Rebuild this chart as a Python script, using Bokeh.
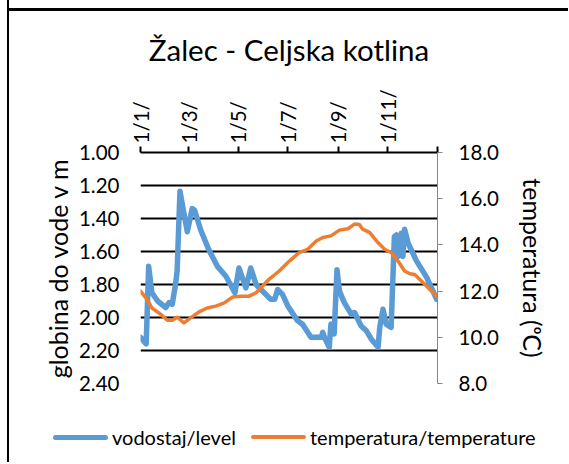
from bokeh.plotting import figure
from bokeh.layouts import column
from bokeh.models import (Range1d, LinearAxis, FixedTicker, NumeralTickFormatter, Div)
from bokeh.embed import file_html
from bokeh.resources import INLINE

# ---- data (day of year) ----
level_day = [0, 7, 10, 14, 21, 31, 35, 39, 43, 45, 48.5, 57.5, 63.5, 66.5, 74, 84, 94.5,
             105, 116, 121, 129.5, 135.5, 142, 152, 160, 165, 168.5, 174.5, 181, 193,
             199, 209.5, 222, 224, 226, 232, 234, 238, 241.5, 244.5, 250.5, 259, 263,
             271, 277.5, 283.5, 292, 294, 298, 302, 308, 312, 314.5, 316.5, 320.5,
             322.5, 324.5, 329, 339, 351.5, 364]
level_m = [2.12, 2.16, 1.69, 1.85, 1.90, 1.94, 1.91, 1.92, 1.80, 1.72, 1.235, 1.48, 1.34,
           1.35, 1.47, 1.59, 1.69, 1.75, 1.85, 1.70, 1.82, 1.70, 1.80, 1.85, 1.89, 1.89,
           1.83, 1.86, 1.93, 2.02, 2.04, 2.12, 2.12, 2.09, 2.12, 2.18, 2.04, 2.10, 1.71,
           1.84, 1.91, 1.98, 1.97, 2.05, 2.08, 2.13, 2.18, 2.06, 1.95, 2.04, 2.06, 1.51,
           1.50, 1.63, 1.49, 1.63, 1.465, 1.55, 1.655, 1.755, 1.89]

temp_day = [0, 8, 14, 25, 33, 39, 45, 53.5, 61.5, 72, 82, 92.5, 103, 113, 123, 133.5, 142,
            150, 158, 170.5, 183, 195, 205.5, 216, 224, 234, 244.5, 255, 263, 269, 273,
            281.5, 290, 300, 308, 316.5, 324.5, 331, 337, 347.5, 357.5, 364]
temp_c = [12.0, 11.64, 11.27, 10.99, 10.74, 10.74, 10.87, 10.62, 10.84, 11.10, 11.27, 11.35,
          11.49, 11.74, 11.78, 11.78, 11.93, 12.22, 12.51, 12.87, 13.30, 13.67, 13.81,
          14.17, 14.32, 14.39, 14.64, 14.70, 14.90, 14.88, 14.68, 14.54, 14.17, 13.81,
          13.67, 13.30, 12.87, 12.75, 12.72, 12.36, 12.0, 11.78]

x_ticks = [0, 59, 120, 181, 243, 304, 365]
x_labels = ["1/1/", "1/3/", "1/5/", "1/7/", "1/9/", "1/11/", ""]
left_ticks = [1.0, 1.2, 1.4, 1.6, 1.8, 2.0, 2.2, 2.4]
right_ticks = [8, 10, 12, 14, 16, 18]
series_names = ["vodostaj/level", "temperatura/temperature"]

FONT = "Lato"
BLUE = "#5B9BD5"
ORANGE = "#ED7D31"
TICK_FS = "20.5px"

W, H1, H2 = 568, 398, 64
LEFT_LINE = "linear-gradient(black, black) 7px 0px / 2px 100% no-repeat"
TOP_LINE = "linear-gradient(black, black) 8px 8px / 100% 3px no-repeat"

p = figure(width=W, height=H1, output_backend="svg", toolbar_location=None,
           x_range=Range1d(0, 365), y_range=Range1d(2.4, 1.0),
           x_axis_location="above",
           min_border_left=140, min_border_right=W - 437, min_border_top=152,
           min_border_bottom=H1 - 383)
p.styles = {"background": LEFT_LINE + ", " + TOP_LINE + ", white"}
p.outline_line_color = None
p.background_fill_color = "white"
p.border_fill_alpha = 0

p.title.text = "Žalec - Celjska kotlina"
p.title.text_font = FONT
p.title.text_font_size = "29.5px"
p.title.text_font_style = "normal"
p.title.text_color = "black"
p.title.align = "center"
p.title.standoff = 40

# top x axis
xa = p.xaxis[0]
xa.ticker = FixedTicker(ticks=x_ticks)
xa.major_label_overrides = {t: l for t, l in zip(x_ticks, x_labels)}
xa.major_label_orientation = "vertical"
xa.major_label_text_font = FONT
xa.major_label_text_font_size = TICK_FS
xa.major_label_text_color = "black"
xa.axis_line_color = "black"
xa.axis_line_width = 2
xa.major_tick_line_color = "black"
xa.major_tick_line_width = 2
xa.major_tick_out = 6
xa.major_tick_in = 0
xa.minor_tick_line_color = None
xa.major_label_standoff = 3
p.xgrid.grid_line_color = None

# left y axis
ya = p.yaxis[0]
ya.ticker = FixedTicker(ticks=left_ticks)
ya.formatter = NumeralTickFormatter(format="0.00")
ya.axis_label = "globina do vode v m"
ya.axis_label_text_font = FONT
ya.axis_label_text_font_size = "25px"
ya.axis_label_text_font_style = "normal"
ya.axis_label_text_color = "black"
ya.axis_label_standoff = 3
ya.major_label_text_font = FONT
ya.major_label_text_font_size = TICK_FS
ya.major_label_text_color = "black"
ya.axis_line_color = None
ya.major_tick_line_color = None
ya.major_tick_out = 0
ya.major_tick_in = 0
ya.minor_tick_line_color = None
ya.major_label_standoff = 21
p.ygrid.grid_line_color = "black"
p.ygrid.grid_line_width = 2
p.ygrid.ticker = FixedTicker(ticks=left_ticks)

# right y axis
p.extra_y_ranges = {"temp": Range1d(8, 18)}
ra = LinearAxis(y_range_name="temp", ticker=FixedTicker(ticks=right_ticks),
                formatter=NumeralTickFormatter(format="0.0"))
ra.axis_label = "temperatura (ᵒC)"
ra.axis_label_text_font = FONT
ra.axis_label_text_font_size = "25px"
ra.axis_label_text_font_style = "normal"
ra.axis_label_text_color = "black"
ra.axis_label_standoff = 16
ra.major_label_text_font = FONT
ra.major_label_text_font_size = TICK_FS
ra.major_label_text_color = "black"
ra.axis_line_color = "#868686"
ra.axis_line_width = 1
ra.major_tick_line_color = "#868686"
ra.major_tick_out = 5
ra.major_tick_in = 0
ra.minor_tick_line_color = None
ra.major_label_standoff = 16
p.add_layout(ra, "right")

p.line(level_day, level_m, line_color=BLUE, line_width=5.5, line_join="round",
       line_cap="round")
p.line(temp_day, temp_c, y_range_name="temp", line_color=ORANGE, line_width=3.5,
       line_join="round", line_cap="round")

# legend strip below the chart (HTML, real text)
def swatch(left, color, thick):
    return (f'<span style="position:absolute;left:{left}px;top:{39 - thick / 2}px;'
            f'width:55px;height:{thick}px;border-radius:{thick / 2}px;'
            f'background:{color};"></span>')

def label(left, text):
    return (f'<span style="position:absolute;left:{left}px;top:26px;line-height:26px;'
            f'white-space:nowrap;">{text}</span>')

legend_html = (
    f'<div style="position:relative;width:{W}px;height:{H2}px;font-family:{FONT};'
    f'font-size:20px;color:black;">'
    + swatch(53, BLUE, 5) + label(112, series_names[0])
    + swatch(251, ORANGE, 4) + label(310, series_names[1])
    + '</div>'
)
legend_div = Div(text=legend_html, width=W, height=H2, margin=0,
                 styles={"background": LEFT_LINE + ", white"})

layout = column(p, legend_div, spacing=0)
open("out.html", "w").write(file_html(layout, INLINE))
